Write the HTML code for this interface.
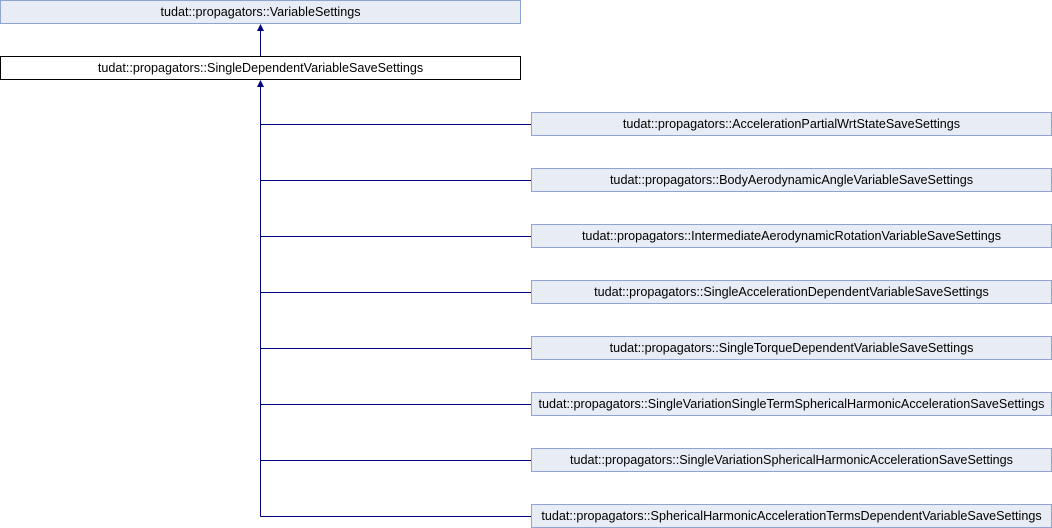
<!DOCTYPE html>
<html><head><style>body{margin:0;background:#fff}svg{display:block}text{font-family:"Liberation Sans",sans-serif;font-size:12.6px;fill:#000}</style></head><body>
<svg width="1052" height="528" xmlns="http://www.w3.org/2000/svg">
<g fill="none" stroke="#000080" stroke-width="1">
<line x1="260.5" y1="30" x2="260.5" y2="56"/>
<line x1="260.5" y1="86" x2="260.5" y2="516.5"/>
<path d="M260.5 124.5H531M260.5 180.5H531M260.5 236.5H531M260.5 292.5H531M260.5 348.5H531M260.5 404.5H531M260.5 460.5H531M260.5 516.5H531"/>
</g>
<g fill="#000080"><path d="M260.5 24l-3.5 7h7z"/><path d="M260.5 80l-3.5 7h7z"/></g>
<rect x="0.5" y="0.5" width="520" height="23" fill="#e8ecf5" stroke="#8ea5d3"/>
<text x="260.5" y="16" text-anchor="middle">tudat::propagators::VariableSettings</text>
<rect x="0.5" y="56.5" width="520" height="23" fill="#fff" stroke="#000"/>
<text x="260.5" y="72" text-anchor="middle">tudat::propagators::SingleDependentVariableSaveSettings</text>
<g fill="#e8ecf5" stroke="#8ea5d3">
<rect x="531.5" y="112.5" width="520" height="23"/><rect x="531.5" y="168.5" width="520" height="23"/><rect x="531.5" y="224.5" width="520" height="23"/><rect x="531.5" y="280.5" width="520" height="23"/><rect x="531.5" y="336.5" width="520" height="23"/><rect x="531.5" y="392.5" width="520" height="23"/><rect x="531.5" y="448.5" width="520" height="23"/><rect x="531.5" y="504.5" width="520" height="23"/>
</g>
<g text-anchor="middle">
<text x="791.5" y="128">tudat::propagators::AccelerationPartialWrtStateSaveSettings</text>
<text x="791.5" y="184">tudat::propagators::BodyAerodynamicAngleVariableSaveSettings</text>
<text x="791.5" y="240">tudat::propagators::IntermediateAerodynamicRotationVariableSaveSettings</text>
<text x="791.5" y="296">tudat::propagators::SingleAccelerationDependentVariableSaveSettings</text>
<text x="791.5" y="352">tudat::propagators::SingleTorqueDependentVariableSaveSettings</text>
<text x="791.5" y="408">tudat::propagators::SingleVariationSingleTermSphericalHarmonicAccelerationSaveSettings</text>
<text x="791.5" y="464">tudat::propagators::SingleVariationSphericalHarmonicAccelerationSaveSettings</text>
<text x="791.5" y="520">tudat::propagators::SphericalHarmonicAccelerationTermsDependentVariableSaveSettings</text>
</g>
</svg>
</body></html>
